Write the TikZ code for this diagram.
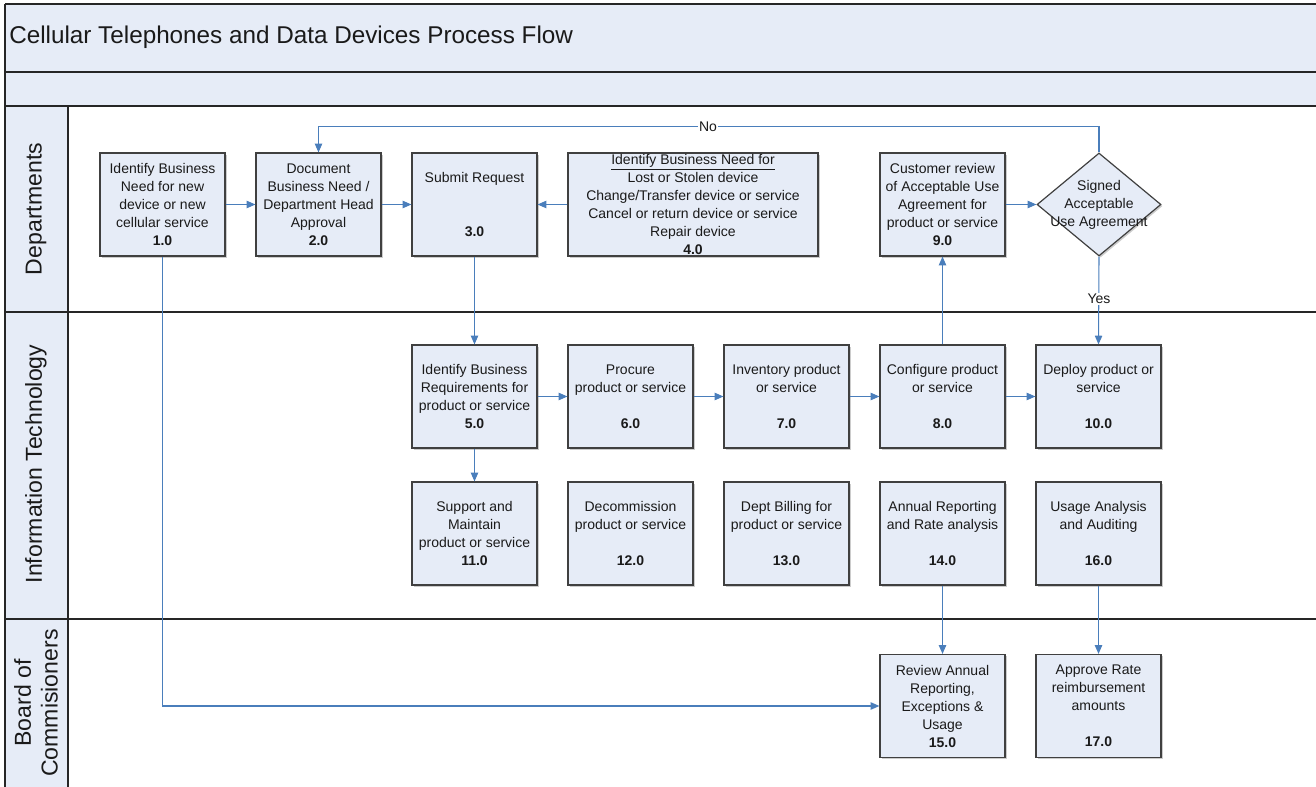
\documentclass[tikz,border=0pt]{standalone}
\usepackage{fontspec}
\setmainfont{Liberation Sans}
\usetikzlibrary{arrows.meta,shapes.geometric,shadows}
\definecolor{band}{HTML}{E6ECF7}
\definecolor{boxfill}{HTML}{E6ECF7}
\definecolor{boxline}{HTML}{404040}
\definecolor{flow}{HTML}{4A7EBB}
\definecolor{lane}{HTML}{262626}
\definecolor{txt}{HTML}{1A1A1A}
\begin{document}
\begin{tikzpicture}[x=0.75pt,y=-0.75pt,
  boxshadow/.style={drop shadow={shadow xshift=1.2pt,shadow yshift=-1.2pt,fill=black!40,opacity=0.5}},
  proc/.style={draw=boxline,line width=0.9pt,fill=boxfill,minimum width=93.75pt,minimum height=77.25pt,
    inner sep=0pt,align=center,font=\fontsize{10.5}{13.5}\selectfont,text=txt,boxshadow},
  wideproc/.style={proc,minimum width=187.5pt},
  decision/.style={diamond,draw=boxline,line width=0.9pt,fill=boxfill,minimum width=93pt,minimum height=77.25pt,
    inner sep=0pt,boxshadow},
  boxtext/.style={align=center,inner sep=0pt,font=\fontsize{10.5}{13.5}\selectfont,text=txt},
  flowline/.style={draw=flow,line width=0.8pt},
  arr/.style={flowline,-{Triangle[length=6.5pt,width=5.5pt]}},
  lanesep/.style={draw=lane,line width=1.5pt},
  lanelabel/.style={rotate=90,font=\fontsize{17.3}{20}\selectfont,text=txt,align=center,inner sep=0pt},
  flag/.style={fill=white,inner sep=1pt,font=\fontsize{10.5}{12}\selectfont,text=txt}
]
\useasboundingbox (0,0) rectangle (1316,787);
% bands and lanes
\fill[band] (5,4) rectangle (1316,106);
\fill[band] (5,106) rectangle (68,787);
\draw[lanesep] (5,4) -- (1316,4);
\draw[lanesep] (5,72) -- (1316,72);
\draw[lanesep] (5,106) -- (1316,106);
\draw[lanesep] (5,312) -- (1316,312);
\draw[lanesep] (5,619) -- (1316,619);
\draw[lanesep] (5,4) -- (5,787);
\draw[draw=lane,line width=1.2pt] (68,106) -- (68,787);

\node[anchor=west,inner sep=0pt,font=\fontsize{18.2}{22}\selectfont,text=txt] (title) at (9,37.5)
  {Cellular Telephones and Data Devices Process Flow};

\node[lanelabel] (ldept) at (36,209) {Departments};
\node[lanelabel] (lit) at (36,464) {Information Technology};
\node[lanelabel] (lboard) at (36,703) {Board of\\Commisioners};

% Departments lane
\node[proc] (b1) at (162.5,204.5) {Identify Business\\Need for new\\device or new\\cellular service\\\textbf{1.0}};
\node[proc] (b2) at (318.5,204.5) {Document\\Business Need /\\Department Head\\Approval\\\textbf{2.0}};
\node[proc] (b3) at (474.5,204.5) {Submit Request\\\mbox{}\\\mbox{}\\\textbf{3.0}};
\node[wideproc] (b4) at (693,204.5) {};
\node[boxtext] (b4t) at (b4.center) {\underline{Identify Business Need for}\\Lost or Stolen device\\Change/Transfer device or service\\Cancel or return device or service\\Repair device\\\textbf{4.0}};
\node[proc] (b9) at (942.5,204.5) {Customer review\\of Acceptable Use\\Agreement for\\product or service\\\textbf{9.0}};
\node[decision] (d) at (1099,204.5) {};
\node[boxtext] (dt) at (d.center) {Signed\\Acceptable\\Use Agreement};

% IT lane row 1
\node[proc] (b5) at (474.5,396.5) {Identify Business\\Requirements for\\product or service\\\textbf{5.0}};
\node[proc] (b6) at (630.5,396.5) {Procure\\product or service\\\mbox{}\\\textbf{6.0}};
\node[proc] (b7) at (786.5,396.5) {Inventory product\\or service\\\mbox{}\\\textbf{7.0}};
\node[proc] (b8) at (942.5,396.5) {Configure product\\or service\\\mbox{}\\\textbf{8.0}};
\node[proc] (b10) at (1098.5,396.5) {Deploy product or\\service\\\mbox{}\\\textbf{10.0}};
% IT lane row 2
\node[proc] (b11) at (474.5,533.5) {Support and\\Maintain\\product or service\\\textbf{11.0}};
\node[proc] (b12) at (630.5,533.5) {Decommission\\product or service\\\mbox{}\\\textbf{12.0}};
\node[proc] (b13) at (786.5,533.5) {Dept Billing for\\product or service\\\mbox{}\\\textbf{13.0}};
\node[proc] (b14) at (942.5,533.5) {Annual Reporting\\and Rate analysis\\\mbox{}\\\textbf{14.0}};
\node[proc] (b16) at (1098.5,533.5) {Usage Analysis\\and Auditing\\\mbox{}\\\textbf{16.0}};
% Board lane
\node[proc] (b15) at (942.5,706) {Review Annual\\Reporting,\\Exceptions \&\\Usage\\\textbf{15.0}};
\node[proc] (b17) at (1098.5,706) {Approve Rate\\reimbursement\\amounts\\\mbox{}\\\textbf{17.0}};

% connectors
\draw[arr] (b1.east) -- (b2.west);
\draw[arr] (b2.east) -- (b3.west);
\draw[arr] (b4.west) -- (b3.east);
\draw[arr] (b9.east) -- (d.west);
\draw[arr] (d.north) -- ++(0,-26) -| (b2.north);
\node[flag] (no) at (708,127) {No};
\draw[arr] (d.south) -- (b10.north);
\node[flag] (yes) at (1099,299) {Yes};
\draw[arr] (b3.south) -- (b5.north);
\draw[arr] (b5.east) -- (b6.west);
\draw[arr] (b6.east) -- (b7.west);
\draw[arr] (b7.east) -- (b8.west);
\draw[arr] (b8.east) -- (b10.west);
\draw[arr] (b8.north) -- (b9.south);
\draw[arr] (b5.south) -- (b11.north);
\draw[arr] (b1.south) |- (b15.west);
\draw[arr] (b14.south) -- (b15.north);
\draw[arr] (b16.south) -- (b17.north);
\end{tikzpicture}
\end{document}
